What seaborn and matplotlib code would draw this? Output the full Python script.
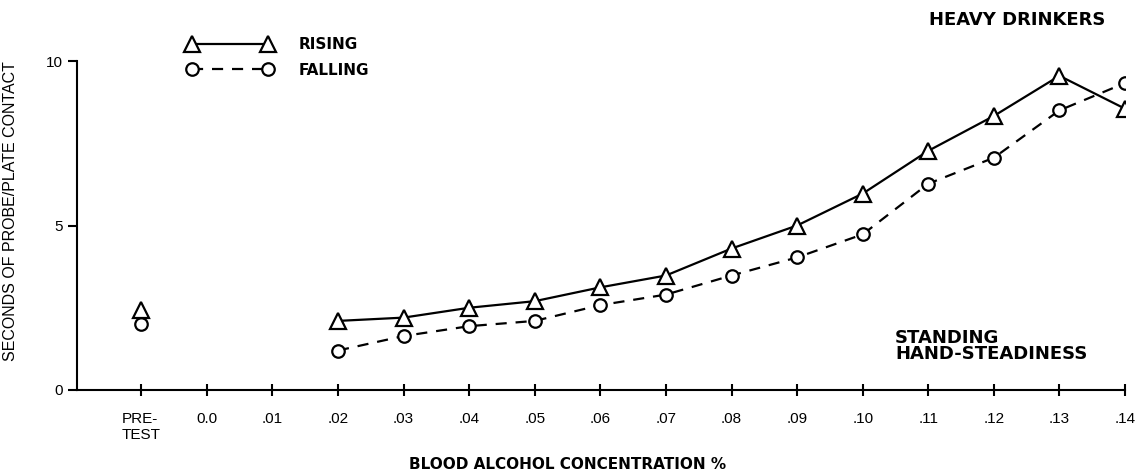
import matplotlib
matplotlib.use("Agg")
import matplotlib.pyplot as plt
import seaborn as sns
import pandas as pd
from matplotlib.lines import Line2D

# ---- data ----
tick_labels = ["PRE-\nTEST", "0.0", ".01", ".02", ".03", ".04", ".05", ".06",
               ".07", ".08", ".09", ".10", ".11", ".12", ".13", ".14"]
conc_labels = [".02", ".03", ".04", ".05", ".06", ".07", ".08", ".09",
               ".10", ".11", ".12", ".13", ".14"]
rising = [2.1, 2.2, 2.5, 2.7, 3.12, 3.48, 4.3, 5.0, 5.97, 7.27, 8.33, 9.55, 8.55]
falling = [1.2, 1.64, 1.94, 2.1, 2.58, 2.9, 3.48, 4.03, 4.73, 6.27, 7.06, 8.5, 9.33]
pretest_rising = [2.42]
pretest_falling = [2.0]
y_ticks = [0, 5, 10]

sns.set_theme(style="white")
plt.rcParams["font.family"] = ["Liberation Sans", "DejaVu Sans"]
plt.rcParams.update({"text.color": "black", "axes.labelcolor": "black",
                     "xtick.color": "black", "ytick.color": "black"})

pos = {lab: i for i, lab in enumerate(tick_labels)}
xs = [pos[c] for c in conc_labels]

fig = plt.figure(figsize=(11.41, 4.73), dpi=100)
ax = fig.add_axes([0.0675, 0.1755, 0.9185, 0.6955])

lw = 1.6
rise_kw = dict(color="black", linewidth=lw, marker="^", markersize=12,
               markerfacecolor="white", markeredgecolor="black",
               markeredgewidth=lw)
fall_kw = dict(color="black", linewidth=lw, marker="o", markersize=9,
               markerfacecolor="white", markeredgecolor="black",
               markeredgewidth=lw)

df_r = pd.DataFrame({"x": xs, "y": rising})
df_f = pd.DataFrame({"x": xs, "y": falling})

sns.lineplot(data=df_f, x="x", y="y", ax=ax, estimator=None, sort=False,
             legend=False, linestyle=(0, (5, 4)), **fall_kw)
sns.lineplot(data=df_r, x="x", y="y", ax=ax, estimator=None, sort=False,
             legend=False, **rise_kw)
sns.lineplot(x=[pos["PRE-\nTEST"]], y=pretest_falling, ax=ax, estimator=None,
             legend=False, **fall_kw)
sns.lineplot(x=[pos["PRE-\nTEST"]], y=pretest_rising, ax=ax, estimator=None,
             legend=False, **rise_kw)

ax.set_xlim(-0.98, 15)
ax.set_ylim(0, 10)
ax.set_xticks(range(len(tick_labels)))
ax.set_xticklabels(tick_labels, fontsize=11)
ax.get_xticklabels()[0].set_multialignment("left")
ax.set_yticks(y_ticks)
ax.set_yticklabels([str(v) for v in y_ticks], fontsize=11)

for s in ["top", "right"]:
    ax.spines[s].set_visible(False)
for s in ["left", "bottom"]:
    ax.spines[s].set_color("black")
    ax.spines[s].set_linewidth(1.5)

ax.tick_params(axis="x", direction="inout", length=8, width=1.5,
               colors="black", pad=12, bottom=True)
ax.tick_params(axis="y", direction="out", length=6.5, width=1.5,
               colors="black", pad=4, left=True)

ax.set_xlabel("BLOOD ALCOHOL CONCENTRATION %", fontsize=11,
              fontweight="bold", family=["DejaVu Sans"])
ax.xaxis.set_label_coords(0.468, -0.205)
ax.set_ylabel("SECONDS OF PROBE/PLATE CONTACT", fontsize=11.5)
ax.yaxis.set_label_coords(-0.056, 0.545)

# annotations
fig.text(1105 / 1141, 1 - 20 / 473, "HEAVY DRINKERS", ha="right", va="center",
         fontsize=13, fontweight="bold", family=["DejaVu Sans"])
fig.text(895 / 1141, 1 - 346 / 473, "STANDING\nHAND-STEADINESS", ha="left",
         va="center", fontsize=13, fontweight="bold", linespacing=0.9,
         family=["DejaVu Sans"])

handles = [Line2D([0], [0], **rise_kw),
           Line2D([0], [0], linestyle=(0, (5, 4)), **fall_kw)]
ax.legend(handles, ["RISING", "FALLING"], numpoints=2, frameon=False,
          loc="center left", bbox_to_anchor=(187 / 1141, 1 - 57.5 / 473),
          bbox_transform=fig.transFigure, borderpad=0, borderaxespad=0,
          handlelength=5.6, handletextpad=1.7, labelspacing=0.7,
          prop={"family": "DejaVu Sans", "weight": "bold", "size": 11})

fig.savefig("out.png", dpi=100)
